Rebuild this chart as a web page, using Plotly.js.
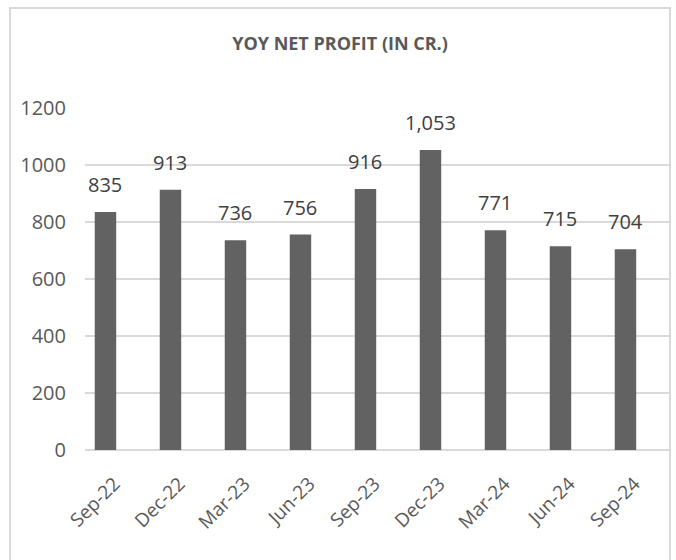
<!DOCTYPE html>
<html>
<head>
<meta charset="utf-8">
<script src="https://cdn.plot.ly/plotly-3.0.1.min.js"></script>
<style>
  html, body { margin: 0; padding: 0; background: #ffffff; }
  #wrap { position: relative; width: 676px; height: 560px; overflow: hidden; }
  #frame { position: absolute; left: 9px; top: 7px; width: 662px; height: 600px;
           border: 2px solid #d9d9d9; box-sizing: border-box; pointer-events: none; }
  #chart { position: absolute; left: 0; top: 0; width: 676px; height: 560px; }
</style>
</head>
<body>
<div id="wrap">
  <div id="frame"></div>
  <div id="chart"></div>
</div>
<script>
const categories = ["Sep-22", "Dec-22", "Mar-23", "Jun-23", "Sep-23", "Dec-23", "Mar-24", "Jun-24", "Sep-24"];
const netProfit = [835, 913, 736, 756, 916, 1053, 771, 715, 704];
const yTicks = [0, 200, 400, 600, 800, 1000, 1200];
const chartTitle = "YOY NET PROFIT (IN CR.)";

const fontFamily = "'Open Sans', 'Noto Sans', sans-serif";

const trace = {
  type: "bar",
  x: categories,
  y: netProfit,
  width: 0.33,
  marker: { color: "#626262", line: { width: 0 } },
  hoverinfo: "skip"
};

const annotations = categories.map((c, i) => ({
  x: c,
  y: netProfit[i],
  xref: "x",
  yref: "y",
  text: netProfit[i].toLocaleString("en-US"),
  showarrow: false,
  yanchor: "bottom",
  yshift: 12,
  font: { family: fontFamily, size: 20, color: "#404040" }
}));

const layout = {
  width: 676,
  height: 560,
  margin: { l: 85, r: 6, t: 108, b: 110 },
  paper_bgcolor: "rgba(0,0,0,0)",
  plot_bgcolor: "rgba(0,0,0,0)",
  showlegend: false,
  title: {
    text: "<b>" + chartTitle + "</b>",
    font: { family: fontFamily, size: 18, color: "#595959" },
    x: 0.503,
    xanchor: "center",
    xref: "container",
    y: 1 - 44 / 560,
    yanchor: "middle",
    yref: "container"
  },
  xaxis: {
    type: "category",
    range: [-0.315, 8.685],
    tickangle: -45,
    tickfont: { family: fontFamily, size: 19, color: "#595959" },
    showgrid: false,
    zeroline: false,
    showline: false,
    ticks: "",
    ticklabelstandoff: 18,
    ticklabelshift: 9,
    fixedrange: true
  },
  yaxis: {
    range: [0, 1200],
    tickvals: yTicks,
    ticktext: yTicks.map(String),
    tickfont: { family: fontFamily, size: 20, color: "#595959" },
    showgrid: true,
    gridcolor: "#d9d9d9",
    gridwidth: 1.5,
    zeroline: true,
    zerolinecolor: "#d9d9d9",
    zerolinewidth: 2,
    showline: false,
    ticks: "",
    ticklabelstandoff: 18,
    fixedrange: true
  },
  annotations: annotations,
  bargap: 0.67
};

Plotly.newPlot("chart", [trace], layout, { displayModeBar: false, staticPlot: true });
</script>
</body>
</html>
